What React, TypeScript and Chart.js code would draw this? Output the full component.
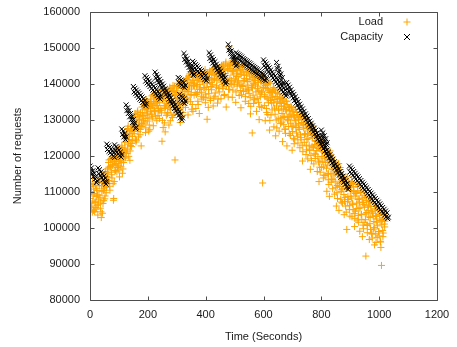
import { useEffect, useRef } from "react";
import { Chart, registerables } from "chart.js";

Chart.register(...registerables);

// ---------- data (values in thousands of requests) ----------
// Load is sampled every second; the three arrays hold seconds 0,3,6..., 1,4,7..., 2,5,8...
const LOAD_STEP = 3;
const loadOffsets = [0, 1, 2];
const loadK_a = [
  108.2, 111.5, 106.1, 113.8, 104.9, 109.6, 107.3, 105.2, 110.4, 103.6,
  107.8, 112.6, 105.5, 102.9, 114.7, 106.8, 110.9, 108.1, 115.2, 111.3,
  116.4, 113.2, 118.9, 110.5, 117.1, 114.8, 119.6, 107.7, 112.9, 117.8,
  119.2, 115.6, 121.4, 117.3, 114.2, 120.5, 118.1, 122.3, 116.4, 120.9,
  123.8, 119.5, 126.7, 121.9, 128.3, 124.6, 118.8, 127.1, 122.6, 125.4,
  129.6, 126.2, 131.8, 123.9, 128.7, 132.5, 125.3, 130.1, 127.4, 122.8,
  133.6, 128.9, 131.2, 135.4, 126.5, 132.8, 129.7, 134.9, 130.6, 127.3,
  135.8, 131.6, 133.9, 128.4, 137.2, 132.3, 134.7, 129.8, 136.5, 133.1,
  130.4, 136.8, 132.7, 124.1, 135.5, 138.0, 129.2, 133.6, 131.3, 137.4,
  134.2, 128.6, 139.1, 132.9, 136.7, 130.7, 138.3, 133.8, 118.9, 135.9,
  137.6, 131.9, 140.2, 134.5, 129.3, 138.8, 135.7, 132.1, 139.9, 136.4,
  133.5, 141.6, 137.9, 131.4, 139.7, 142.8, 135.1, 138.6, 134.3, 140.9,
  136.9, 142.1, 133.2, 139.4, 137.5, 141.3, 131.8, 138.9, 143.0, 135.8,
  140.6, 136.2, 142.7, 134.8, 139.1, 130.2, 141.8, 137.3, 143.6, 135.4,
  138.4, 144.1, 133.9, 141.2, 136.6, 142.9, 139.5, 134.7, 143.8, 137.8,
  141.7, 135.9, 144.6, 139.2, 145.3, 137.1, 142.4, 133.6, 140.8, 143.9,
  150.4, 138.5, 145.8, 141.0, 136.3, 143.7, 139.8, 146.2, 134.9, 142.1,
  140.3, 144.9, 136.8, 142.6, 133.4, 139.6, 145.1, 137.9, 141.5, 135.2,
  143.4, 138.1, 140.7, 134.6, 142.2, 131.7, 139.0, 126.4, 136.9, 141.8,
  135.6, 142.0, 132.4, 138.7, 140.4, 130.1, 137.2, 141.3, 133.5, 112.5,
  139.1, 134.0, 129.8, 140.5, 136.1, 131.5, 138.3, 127.2, 135.4, 137.7,
  132.8, 138.6, 128.1, 135.7, 125.6, 133.9, 137.4, 130.3, 126.9, 134.6,
  136.2, 129.4, 124.0, 133.1, 131.0, 127.5, 135.3, 122.8, 130.6, 128.2,
  133.4, 125.7, 130.9, 121.6, 128.3, 132.2, 124.5, 129.8, 126.4, 131.5,
  127.9, 130.8, 122.3, 125.1, 131.4, 118.6, 128.7, 123.8, 126.2, 120.4,
  124.6, 119.2, 127.8, 121.5, 116.3, 125.9, 122.7, 128.4, 117.8, 123.1,
  120.5, 124.3, 115.7, 122.1, 112.9, 118.6, 123.5, 116.8, 121.2, 113.9,
  119.4, 114.6, 121.3, 110.2, 117.5, 115.1, 108.8, 120.1, 112.7, 116.3,
  113.5, 117.6, 109.4, 115.2, 106.1, 111.8, 114.7, 104.9, 112.3, 108.0,
  110.6, 106.9, 113.2, 103.7, 108.5, 111.4, 99.6, 107.3, 112.0, 105.1,
  108.8, 112.4, 103.1, 106.5, 110.2, 100.4, 104.7, 109.6, 102.2, 107.9,
  105.4, 99.1, 110.3, 103.8, 97.6, 107.1, 101.5, 108.6, 92.2, 104.3,
  100.7, 106.2, 96.8, 102.9, 108.1, 98.3, 104.5, 99.7, 95.3, 103.4,
  101.6, 97.4, 105.2, 99.0, 103.7, 96.1, 89.6, 102.4, 98.6, 104.1,
  101.9,
];
const loadK_b = [
  109.4, 105.8, 112.1, 107.5, 110.8, 104.6, 111.9, 108.7, 106.3, 112.8,
  109.1, 113.6, 107.2, 111.8, 104.1, 110.4, 113.1, 108.9, 112.2, 114.3,
  115.3, 118.2, 112.4, 116.7, 119.3, 113.9, 117.6, 108.2, 118.4, 115.9,
  117.9, 121.8, 119.7, 116.1, 122.4, 118.8, 120.3, 115.2, 121.1, 119.4,
  122.2, 125.3, 120.7, 127.6, 124.1, 126.2, 121.4, 128.1, 123.5, 126.9,
  127.9, 130.6, 124.7, 129.4, 131.5, 126.8, 130.2, 128.5, 132.1, 129.0,
  131.1, 134.3, 129.2, 133.0, 127.8, 135.1, 131.9, 133.7, 128.6, 134.6,
  133.4, 136.7, 130.9, 135.2, 132.6, 137.5, 134.1, 136.0, 131.2, 135.6,
  134.8, 137.1, 132.0, 135.9, 127.9, 136.4, 133.2, 137.8, 134.5, 131.7,
  136.1, 133.4, 138.7, 135.3, 131.2, 137.9, 134.6, 139.4, 136.8, 132.8,
  138.1, 135.0, 139.6, 136.8, 133.3, 140.4, 137.2, 134.4, 139.0, 137.9,
  139.3, 136.1, 141.2, 138.0, 142.3, 136.9, 140.5, 133.0, 141.9, 139.6,
  140.2, 137.6, 142.4, 139.8, 135.2, 141.7, 138.5, 142.9, 136.6, 140.8,
  141.4, 138.9, 143.1, 137.2, 142.0, 140.1, 133.5, 141.6, 143.3, 139.3,
  142.6, 139.8, 144.3, 141.5, 137.5, 143.4, 140.9, 144.7, 138.8, 142.2,
  143.1, 140.5, 145.0, 138.7, 143.8, 141.9, 145.6, 139.4, 144.2, 136.4,
  144.3, 141.6, 145.4, 139.9, 143.5, 146.0, 140.6, 144.8, 137.8, 143.0,
  143.7, 140.9, 144.5, 138.2, 142.8, 144.0, 139.3, 143.3, 141.0, 136.5,
  142.5, 139.7, 143.6, 137.4, 141.3, 133.8, 142.9, 138.9, 140.2, 135.8,
  141.0, 137.8, 142.6, 139.4, 134.9, 141.8, 136.4, 140.6, 138.0, 142.1,
  140.1, 137.0, 139.6, 133.2, 138.7, 135.8, 140.6, 129.9, 137.6, 134.7,
  137.9, 134.8, 138.3, 131.6, 136.5, 127.8, 135.2, 133.0, 137.2, 130.5,
  134.9, 131.8, 135.6, 128.7, 133.9, 126.3, 132.5, 134.3, 129.8, 131.1,
  132.6, 129.1, 133.5, 126.8, 131.2, 123.4, 130.0, 127.9, 132.1, 125.5,
  130.2, 127.4, 131.0, 124.5, 129.3, 121.2, 127.8, 125.9, 130.4, 122.8,
  127.6, 124.8, 128.2, 121.9, 126.5, 118.7, 125.1, 127.0, 120.6, 124.2,
  124.1, 121.5, 124.9, 118.3, 123.0, 115.5, 121.8, 119.9, 123.6, 117.0,
  120.8, 118.2, 121.9, 115.0, 119.6, 112.1, 118.4, 120.5, 113.6, 117.3,
  117.2, 114.7, 118.0, 111.3, 116.1, 108.2, 114.9, 112.5, 116.8, 110.1,
  113.6, 110.9, 114.0, 107.4, 112.5, 104.4, 111.0, 108.8, 112.9, 106.2,
  111.2, 108.3, 112.6, 105.1, 110.0, 102.6, 108.9, 106.7, 111.4, 103.5,
  108.1, 105.6, 109.9, 102.4, 107.0, 99.8, 105.8, 103.9, 108.5, 100.9,
  105.8, 103.1, 107.2, 99.6, 104.7, 97.2, 103.3, 101.8, 106.0, 98.4,
  103.2, 100.6, 104.9, 97.8, 102.1, 94.6, 100.9, 99.3, 103.8, 101.1,
];
const loadK_c = [
  106.9, 110.1, 104.4, 108.9, 112.4, 107.1, 105.7, 110.9, 109.2, 106.6,
  111.7, 108.4, 104.5, 110.1, 112.9, 107.6, 111.4, 115.7, 109.8, 113.0,
  114.1, 116.9, 111.6, 119.0, 115.5, 117.4, 112.3, 118.6, 116.0, 119.9,
  120.1, 116.8, 122.0, 118.5, 121.2, 117.0, 122.8, 119.6, 118.2, 121.6,
  124.9, 121.1, 126.1, 123.3, 119.9, 125.8, 122.9, 127.4, 124.3, 128.6,
  126.9, 131.0, 128.1, 124.4, 132.2, 127.7, 130.9, 125.9, 131.3, 128.2,
  132.0, 129.8, 134.1, 130.4, 135.7, 131.4, 133.2, 126.9, 134.4, 132.3,
  134.5, 130.3, 137.0, 133.3, 135.1, 131.1, 136.2, 134.0, 137.7, 132.5,
  136.1, 133.1, 138.2, 129.9, 136.9, 134.0, 126.7, 135.3, 137.5, 132.1,
  137.3, 134.9, 129.8, 138.1, 135.0, 139.6, 131.6, 137.0, 134.1, 138.9,
  136.2, 139.4, 133.9, 140.6, 137.1, 131.0, 139.1, 136.6, 140.7, 134.9,
  138.5, 141.1, 135.6, 142.0, 139.2, 143.4, 137.1, 140.3, 132.4, 142.5,
  139.5, 143.2, 137.1, 141.0, 134.3, 142.7, 139.9, 143.5, 137.7, 141.9,
  142.2, 139.0, 144.0, 136.3, 141.2, 143.1, 138.5, 142.8, 135.9, 140.4,
  141.1, 143.9, 136.1, 142.4, 144.6, 139.1, 143.1, 135.8, 141.9, 144.2,
  142.0, 145.2, 139.9, 144.1, 136.8, 142.9, 146.1, 140.2, 144.8, 138.5,
  145.1, 140.2, 143.6, 146.4, 138.3, 142.5, 145.7, 141.4, 144.0, 139.4,
  142.0, 145.4, 139.8, 143.9, 137.0, 144.6, 140.8, 142.4, 145.2, 138.6,
  141.4, 144.0, 138.4, 142.8, 136.2, 143.3, 139.5, 141.7, 134.6, 140.9,
  139.8, 142.9, 136.0, 141.5, 138.1, 133.7, 140.9, 137.7, 142.4, 139.0,
  141.2, 136.5, 138.9, 132.1, 139.9, 134.8, 137.6, 140.2, 131.4, 136.3,
  136.6, 139.0, 133.3, 137.7, 130.0, 135.8, 138.4, 132.7, 136.0, 129.0,
  133.8, 135.9, 130.7, 134.6, 127.4, 132.9, 135.1, 130.1, 133.5, 126.2,
  131.6, 133.8, 128.1, 132.4, 124.9, 130.8, 133.0, 128.6, 131.2, 123.6,
  129.0, 131.5, 125.9, 130.0, 123.0, 128.4, 130.9, 126.1, 129.2, 121.7,
  126.2, 128.6, 123.0, 127.3, 120.1, 125.7, 128.0, 122.4, 126.8, 119.3,
  123.2, 125.4, 119.8, 124.0, 116.9, 122.5, 124.6, 118.4, 122.9, 114.7,
  119.9, 122.1, 116.6, 121.0, 113.4, 119.1, 121.4, 115.0, 119.7, 110.9,
  116.4, 118.6, 113.0, 117.5, 109.8, 115.6, 117.9, 111.5, 116.2, 107.2,
  112.8, 114.8, 109.3, 113.7, 106.1, 111.9, 114.2, 107.9, 112.4, 103.3,
  110.4, 112.9, 106.9, 111.5, 104.0, 109.6, 112.1, 105.4, 110.3, 101.6,
  107.2, 109.8, 103.7, 108.3, 100.8, 106.5, 109.1, 102.3, 107.6, 98.7,
  104.9, 107.4, 101.2, 106.0, 98.5, 104.1, 106.8, 100.1, 105.3, 96.0,
  102.5, 105.0, 99.0, 103.7, 96.3, 101.9, 104.4, 97.6, 102.8, 100.3,
];
const loadArrays = [loadK_a, loadK_b, loadK_c];

// Capacity: runs of samples 2.5 s apart, each run starting at the given second
const CAP_STEP = 2.5;
const capacityRunStart = [
  0, 28, 58, 85, 110, 125, 150, 190, 225, 305, 310, 325, 355, 412, 478, 505,
  600, 645, 680, 800, 897,
];
const capacityRunsK = [
  [117.2, 115.7, 116.7, 115.0, 115.9, 114.3, 115.2, 113.6, 114.3, 112.6, 113.1],
  [116.7, 115.1, 116.2, 114.6, 115.6, 114.0, 115.0, 113.4, 114.4, 112.8, 113.8, 112.2, 112.9],
  [123.3, 121.8, 122.8, 121.3, 122.4, 120.9, 121.9, 120.4, 121.4, 119.9, 120.9, 119.6],
  [123.1, 121.6, 122.6, 121.1, 122.1, 120.6, 121.6, 120.1, 121.1, 119.7, 120.4],
  [127.5, 126.0, 126.9, 125.3, 126.2, 124.6, 125.3],
  [134.2, 132.6, 133.4, 131.8, 132.6, 130.9, 131.8, 130.1, 130.9, 129.3, 130.1, 128.5, 129.2, 127.6, 128.0],
  [139.3, 137.8, 138.8, 137.3, 138.3, 136.8, 137.8, 136.3, 137.4, 135.8, 136.9, 135.4, 136.4, 134.9, 135.9, 134.4, 135.4, 133.9, 134.5],
  [142.3, 140.8, 141.8, 140.3, 141.3, 139.8, 140.8, 139.3, 140.3, 138.8, 139.9, 138.3, 139.4, 137.8, 138.9, 137.3, 138.4, 136.8, 137.9, 136.3, 137.4, 135.8, 136.5],
  [143.3, 141.7, 142.6, 141.0, 142.0, 140.4, 141.3, 139.7, 140.7, 139.1, 140.0, 138.4, 139.4, 137.8, 138.7, 137.1, 138.1, 136.5, 137.4, 135.8, 136.8, 135.2, 136.2, 134.5, 135.5, 133.9, 134.9, 133.2, 134.2, 132.6, 133.6, 131.9, 132.9, 131.3, 132.3, 130.6, 131.6, 130.0, 130.6],
  [141.8, 140.4, 141.5, 140.0, 141.1, 139.7, 140.8, 139.3, 140.4, 139.0, 139.6],
  [137.1, 135.7, 136.6, 135.3, 136.3, 134.9, 135.9, 134.6, 135.2],
  [148.5, 146.8, 147.7, 146.1, 147.0, 145.3, 146.2, 144.6, 145.5, 143.9, 144.7, 143.1, 144.0, 142.4, 142.8],
  [146.3, 144.9, 145.9, 144.4, 145.4, 144.0, 145.0, 143.5, 144.6, 143.1, 144.1, 142.6, 143.7, 142.2, 143.2, 141.8, 142.8, 141.3, 142.4, 140.9, 141.5],
  [148.7, 147.1, 148.1, 146.5, 147.4, 145.8, 146.8, 145.2, 146.2, 144.5, 145.5, 143.9, 144.9, 143.3, 144.2, 142.6, 143.6, 142.0, 142.9, 141.4, 142.3, 140.7, 141.7, 140.1, 140.6],
  [151.0, 149.4, 150.1, 148.5, 149.2, 147.6, 148.4, 146.7, 147.5, 145.8, 146.6, 145.0, 145.4],
  [148.7, 147.2, 148.4, 146.9, 148.1, 146.6, 147.8, 146.3, 147.5, 145.9, 147.1, 145.6, 146.8, 145.3, 146.5, 145.0, 146.2, 144.7, 145.9, 144.4, 145.6, 144.0, 145.2, 143.7, 144.9, 143.4, 144.6, 143.1, 144.3, 142.8, 144.0, 142.5, 143.7, 142.1, 143.3, 141.8, 143.0, 141.5, 142.7, 141.2, 142.4, 140.9, 141.5],
  [146.7, 145.1, 146.1, 144.6, 145.6, 144.0, 145.0, 143.4, 144.5, 142.9, 143.9, 142.3, 143.3, 141.7, 142.8, 141.2, 142.2, 140.6, 141.7, 140.1, 141.1, 139.5, 140.5, 138.9, 140.0, 138.4, 139.4, 137.8, 138.9, 137.3, 138.3, 136.7, 137.2],
  [146.0, 144.3, 144.9, 143.2, 143.9, 142.2, 142.8, 141.1, 141.8, 140.1, 140.3],
  [140.4, 138.7, 139.7, 138.1, 139.1, 137.4, 138.4, 136.7, 137.7, 136.1, 137.1, 135.4, 136.4, 134.7, 135.7, 134.1, 135.1, 133.4, 134.4, 132.7, 133.7, 132.1, 133.1, 131.4, 132.4, 130.7, 131.7, 130.1, 131.1, 129.4, 130.4, 128.7, 129.7, 128.1, 129.1, 127.4, 128.4, 126.7, 127.7, 126.1, 127.1, 125.4, 126.4, 124.7, 125.7, 124.1, 125.1, 123.4, 124.4, 122.7, 123.7, 122.1, 123.1, 121.4, 122.4, 120.7, 121.7, 120.1, 121.1, 119.4, 120.4, 118.7, 119.7, 118.1, 119.1, 117.4, 118.4, 116.7, 117.7, 116.1, 117.1, 115.4, 116.4, 114.7, 115.7, 114.1, 115.1, 113.4, 114.4, 112.7, 113.7, 112.1, 113.1, 111.4, 112.4, 110.7, 111.2],
  [127.2, 125.6, 126.4, 124.8, 125.6, 124.0, 124.8, 123.2, 123.7],
  [117.2, 115.6, 116.7, 115.1, 116.2, 114.6, 115.7, 114.1, 115.2, 113.6, 114.7, 113.1, 114.2, 112.6, 113.7, 112.1, 113.2, 111.6, 112.7, 111.1, 112.2, 110.6, 111.7, 110.1, 111.2, 109.6, 110.7, 109.1, 110.2, 108.6, 109.7, 108.1, 109.2, 107.6, 108.7, 107.1, 108.2, 106.6, 107.7, 106.1, 107.2, 105.6, 106.7, 105.1, 106.2, 104.6, 105.7, 104.1, 105.2, 103.6, 104.7, 103.1, 104.2, 102.6, 103.0],
];

const UNIT = 1000;
const X_MIN = 0, X_MAX = 1200, X_STEP = 200;
const Y_MIN = 80000, Y_MAX = 160000, Y_STEP = 10000;
const SERIES_NAMES = ["Load", "Capacity"];
const X_TITLE = "Time (Seconds)";
const Y_TITLE = "Number of requests";

const LOAD_COLOR = "#ffa500";
const CAP_COLOR = "#000000";
const TEXT_COLOR = "#1a1a1a";
const FRAME_COLOR = "#4d4d4d";
const FONT_FAMILY = "'Liberation Sans', Arial, Helvetica, sans-serif";

const framePlugin = {
  id: "gnuFrame",
  afterDatasetsDraw(chart: any) {
    const { ctx, chartArea: a, scales } = chart;
    const L = Math.round(a.left) + 0.5;
    const R = Math.round(a.right) + 0.5;
    const T = Math.round(a.top) + 0.5;
    const B = Math.round(a.bottom) + 0.5;
    ctx.save();
    ctx.strokeStyle = FRAME_COLOR;
    ctx.lineWidth = 1;
    ctx.beginPath();
    ctx.rect(L, T, R - L, B - T);
    const tk = 4;
    for (let v = X_MIN; v <= X_MAX; v += X_STEP) {
      const x = Math.round(scales.x.getPixelForValue(v)) + 0.5;
      ctx.moveTo(x, B);
      ctx.lineTo(x, B - tk);
      ctx.moveTo(x, T);
      ctx.lineTo(x, T + tk);
    }
    for (let v = Y_MIN; v <= Y_MAX; v += Y_STEP) {
      const y = Math.round(scales.y.getPixelForValue(v)) + 0.5;
      ctx.moveTo(L, y);
      ctx.lineTo(L + tk, y);
      ctx.moveTo(R, y);
      ctx.lineTo(R - tk, y);
    }
    ctx.stroke();

    // key (top right, inside the plot)
    const textRight = a.right - 54;
    const symX = a.right - 30;
    const rows = [a.top + 10, a.top + 25];
    ctx.font = `11px ${FONT_FAMILY}`;
    ctx.fillStyle = TEXT_COLOR;
    ctx.textAlign = "right";
    ctx.textBaseline = "middle";
    chart.data.datasets.forEach((ds: any, i: number) => {
      const y = rows[i];
      ctx.fillText(ds.label, textRight, y);
      ctx.strokeStyle = ds.borderColor;
      ctx.beginPath();
      if (ds.pointStyle === "cross") {
        ctx.moveTo(symX - 3.5, y);
        ctx.lineTo(symX + 3.5, y);
        ctx.moveTo(symX, y - 3.5);
        ctx.lineTo(symX, y + 3.5);
      } else {
        ctx.moveTo(symX - 3, y - 3);
        ctx.lineTo(symX + 3, y + 3);
        ctx.moveTo(symX - 3, y + 3);
        ctx.lineTo(symX + 3, y - 3);
      }
      ctx.stroke();
    });
    ctx.restore();
  },
};

export default function App() {
  const canvasRef = useRef<HTMLCanvasElement | null>(null);

  useEffect(() => {
    const canvas = canvasRef.current;
    if (!canvas) return;

    const loadData = loadArrays
      .flatMap((arr, k) => arr.map((v, i) => ({ x: loadOffsets[k] + i * LOAD_STEP, y: v * UNIT })))
      .sort((p, q) => p.x - q.x);
    const capData = capacityRunsK.flatMap((run, r) =>
      run.map((v, i) => ({ x: capacityRunStart[r] + i * CAP_STEP, y: v * UNIT }))
    );

    const tickFont = { family: FONT_FAMILY, size: 11 };

    const chart = new Chart(canvas, {
      type: "scatter",
      data: {
        datasets: [
          {
            label: SERIES_NAMES[0],
            data: loadData,
            pointStyle: "cross",
            pointRadius: 3.5,
            pointHoverRadius: 3.5,
            borderColor: LOAD_COLOR,
            backgroundColor: LOAD_COLOR,
            borderWidth: 1,
            order: 1,
          },
          {
            label: SERIES_NAMES[1],
            data: capData,
            pointStyle: "crossRot",
            pointRadius: 3.5,
            pointHoverRadius: 3.5,
            borderColor: CAP_COLOR,
            backgroundColor: CAP_COLOR,
            borderWidth: 1,
            order: 0,
          },
        ],
      },
      options: {
        animation: false,
        responsive: true,
        maintainAspectRatio: false,
        events: [],
        layout: { padding: { left: 0, right: 20, top: 12, bottom: 0 } },
        plugins: {
          legend: { display: false },
          tooltip: { enabled: false },
        },
        scales: {
          x: {
            type: "linear",
            min: X_MIN,
            max: X_MAX,
            grid: { display: false, drawTicks: false },
            border: { display: false },
            ticks: {
              stepSize: X_STEP,
              padding: 8,
              color: TEXT_COLOR,
              font: tickFont,
              maxRotation: 0,
              callback: (v: any) => String(v),
            },
            title: {
              display: true,
              text: X_TITLE,
              color: TEXT_COLOR,
              font: tickFont,
              padding: { top: 0, bottom: 3 },
            },
            afterFit: (s: any) => {
              s.height = 47;
              s.paddingLeft = 0;
              s.paddingRight = 0;
            },
          },
          y: {
            type: "linear",
            min: Y_MIN,
            max: Y_MAX,
            grid: { display: false, drawTicks: false },
            border: { display: false },
            ticks: {
              stepSize: Y_STEP,
              padding: 10,
              color: TEXT_COLOR,
              font: tickFont,
              callback: (v: any) => String(v),
            },
            title: {
              display: true,
              text: Y_TITLE,
              color: TEXT_COLOR,
              font: tickFont,
              padding: { top: 11, bottom: 0 },
            },
            afterFit: (s: any) => {
              s.width = 90;
              s.paddingTop = 0;
              s.paddingBottom = 0;
            },
          },
        },
      },
      plugins: [framePlugin],
    });

    return () => chart.destroy();
  }, []);

  return (
    <div style={{ position: "absolute", left: 0, top: 0, width: 457, height: 347, background: "#fff" }}>
      <canvas ref={canvasRef} />
    </div>
  );
}
